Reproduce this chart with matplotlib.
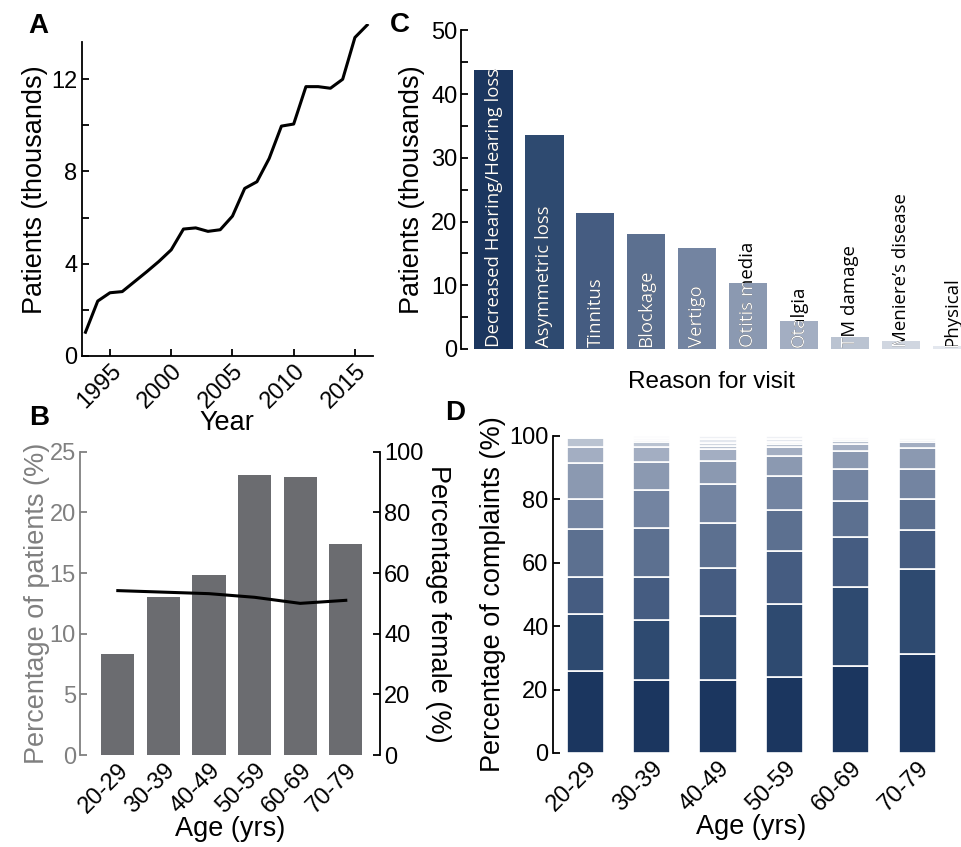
import matplotlib
matplotlib.use('Agg')
import matplotlib.pyplot as plt
import numpy as np

plt.rcParams['font.family'] = ['Liberation Sans', 'DejaVu Sans']

# ---- data ----
years = list(range(1993, 2017))
patients_k = [1.03, 2.38, 2.74, 2.79, 3.22, 3.65, 4.10, 4.60, 5.50, 5.55, 5.40, 5.47,
              6.06, 7.26, 7.55, 8.56, 9.96, 10.05, 11.67, 11.67, 11.60, 11.99, 13.80, 14.34]

age_groups = ['20-29', '30-39', '40-49', '50-59', '60-69', '70-79']
pct_patients = [8.3, 13.0, 14.8, 23.1, 22.9, 17.4]
pct_female = [54.2, 53.7, 53.2, 52.0, 50.0, 51.0]

reasons = ['Decreased Hearing/Hearing loss', 'Asymmetric loss', 'Tinnitus', 'Blockage',
           'Vertigo', 'Otitis media', 'Otalgia', 'TM damage', 'Meniere\u2019s disease', 'Physical']
reason_counts_k = [43.8, 33.6, 21.3, 18.1, 15.8, 10.4, 4.4, 1.9, 1.3, 0.5]

# percentage of complaints per age group (one list per complaint, bottom to top)
decreased = [25.7, 23.1, 23.1, 24.1, 27.3, 31.3]
asymmetric = [18.2, 18.9, 20.1, 22.8, 25.0, 26.6]
tinnitus = [11.5, 13.6, 15.0, 16.9, 15.9, 12.3]
blockage = [15.1, 15.4, 14.3, 12.7, 11.1, 9.9]
vertigo = [9.5, 11.9, 12.2, 10.9, 10.1, 9.4]
otitis = [11.4, 8.8, 7.3, 6.3, 5.8, 6.6]
otalgia = [5.1, 4.6, 3.7, 2.6, 2.3, 1.8]
tm_damage = [2.7, 1.7, 1.1, 1.1, 0.7, 0.8]
meniere = [0.4, 0.7, 0.9, 0.7, 0.8, 0.6]
physical = [0.2, 0.7, 1.3, 0.9, 0.6, 0.4]
other = [0.2, 0.6, 1.0, 1.0, 0.4, 0.3]

palette = ['#1b365f', '#2e4a70', '#455c81', '#5c7090', '#7384a1', '#8b99b1',
           '#a3aec2', '#bac3d1', '#d0d6e0', '#e3e7ee', '#eef0f4']

TICK = 17
LAB = 19.5

fig = plt.figure(figsize=(9.61, 8.47), dpi=100)


def style_ticks(ax):
    ax.tick_params(direction='in', length=5, width=1.3, labelsize=TICK, pad=3)


# ---- A ----
axA = fig.add_axes([0.085, 0.5797, 0.3028, 0.3924])
axA.plot(years, patients_k, color='black', lw=2.2)
axA.set_xlim(1992.69, 2016.45)
axA.set_ylim(0, 14.4)
axA.spines['top'].set_visible(False)
axA.spines['right'].set_visible(False)
axA.spines['left'].set_bounds(0, 13.6)
for s in ['left', 'bottom']:
    axA.spines[s].set_linewidth(1.3)
axA.set_yticks(np.arange(0, 13, 2))
axA.set_yticklabels([str(v) if v % 4 == 0 else '' for v in range(0, 13, 2)])
axA.set_xticks([1995, 2000, 2005, 2010, 2015])
style_ticks(axA)
plt.setp(axA.get_xticklabels(), rotation=45, ha='right', rotation_mode='anchor')
axA.set_xlabel('Year', fontsize=LAB, labelpad=-2)
axA.set_ylabel('Patients (thousands)', fontsize=LAB, labelpad=2)

# ---- B ----
gray = '#808080'
axB = fig.add_axes([0.0832, 0.1086, 0.3122, 0.3581])
xb = np.arange(len(age_groups))
axB.bar(xb, pct_patients, width=0.73, color='#6b6c70')
axB.set_xlim(-0.83, 5.75)
axB.set_ylim(0, 25)
axB.set_yticks(range(0, 26, 5))
for s in ['top', 'bottom', 'right']:
    axB.spines[s].set_visible(False)
axB.spines['left'].set_color(gray)
axB.spines['left'].set_linewidth(1.3)
style_ticks(axB)
axB.tick_params(axis='x', length=0)
axB.tick_params(axis='y', colors=gray)
axB.set_xticks(xb)
axB.set_xticklabels(age_groups)
plt.setp(axB.get_xticklabels(), rotation=45, ha='right', rotation_mode='anchor')
axB.set_ylabel('Percentage of patients (%)', fontsize=LAB, color=gray, labelpad=0)
axB.set_xlabel('Age (yrs)', fontsize=LAB, labelpad=-1)

axB2 = axB.twinx()
axB2.plot(xb, pct_female, color='black', lw=2.2)
axB2.set_ylim(0, 100)
axB2.set_yticks(range(0, 101, 20))
for s in ['top', 'bottom', 'left']:
    axB2.spines[s].set_visible(False)
axB2.spines['right'].set_linewidth(1.3)
style_ticks(axB2)
axB2.set_ylabel('Percentage female (%)', fontsize=LAB, rotation=270, labelpad=20)

# ---- C ----
axC = fig.add_axes([0.4802, 0.588, 0.5198, 0.376])
xc = np.arange(len(reasons))
bars = axC.bar(xc, reason_counts_k, width=0.75, color=palette[:len(reasons)])
axC.set_xlim(-0.63, 9.18)
axC.set_ylim(0, 50)
for s in ['top', 'bottom', 'right']:
    axC.spines[s].set_visible(False)
axC.spines['left'].set_linewidth(1.3)
axC.set_yticks(range(0, 51, 5))
axC.set_yticklabels([str(v) if v % 10 == 0 else '' for v in range(0, 51, 5)])
axC.set_xticks([])
style_ticks(axC)
for x, lab, patch in zip(xc, reasons, bars):
    axC.text(x, 0.3, lab, rotation=90, ha='center', va='bottom', color='black',
             family='Open Sans', fontsize=13.4)
    tw = axC.text(x, 0.3, lab, rotation=90, ha='center', va='bottom', color='white',
                  family='Open Sans', fontsize=13.4, clip_on=True)
    tw.set_clip_path(patch)
axC.set_ylabel('Patients (thousands)', fontsize=LAB, labelpad=4)
axC.set_xlabel('Reason for visit', fontsize=17.5, labelpad=16)

# ---- D ----
axD = fig.add_axes([0.5751, 0.111, 0.414, 0.3746])
xd = np.arange(len(age_groups))
stack = [decreased, asymmetric, tinnitus, blockage, vertigo, otitis, otalgia,
         tm_damage, meniere, physical, other]
bottom = np.zeros(len(age_groups))
for vals, col in zip(stack, palette):
    axD.bar(xd, vals, bottom=bottom, width=0.56, color=col, edgecolor='white', linewidth=1.2)
    bottom += np.array(vals)
axD.set_xlim(-0.49, 5.5)
axD.set_ylim(0, 100)
for s in ['top', 'bottom', 'right']:
    axD.spines[s].set_visible(False)
axD.spines['left'].set_linewidth(1.3)
axD.set_yticks(range(0, 101, 20))
style_ticks(axD)
axD.tick_params(axis='x', length=0)
axD.set_xticks(xd)
axD.set_xticklabels(age_groups)
plt.setp(axD.get_xticklabels(), rotation=45, ha='right', rotation_mode='anchor')
axD.set_ylabel('Percentage of complaints (%)', fontsize=LAB, labelpad=2)
axD.set_xlabel('Age (yrs)', fontsize=LAB, labelpad=-1)

# panel letters
for lab, x, y in [('A', 0.029, 0.961), ('B', 0.030, 0.498), ('C', 0.406, 0.962), ('D', 0.463, 0.504)]:
    fig.text(x, y, lab, fontsize=20, fontweight='bold', va='baseline')

fig.savefig('out.png', dpi=100)
